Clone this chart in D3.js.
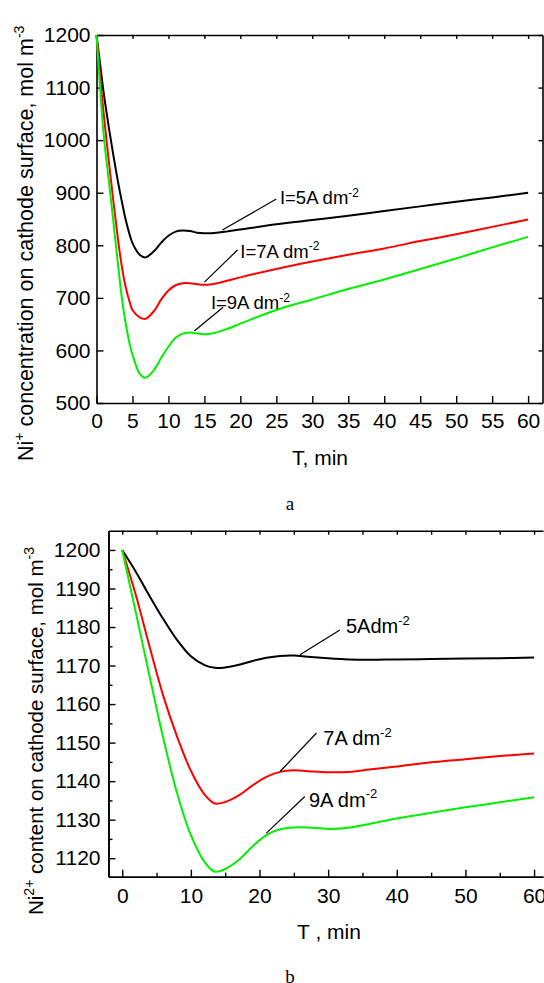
<!DOCTYPE html>
<html>
<head>
<meta charset="utf-8">
<script src="https://cdn.jsdelivr.net/npm/d3@7"></script>
<style>
  body { margin: 0; background: #fff; }
  text { font-family: "Liberation Sans", Arial, sans-serif; fill: #000; }
</style>
</head>
<body>
<script>
// chart a : Ni+ concentration vs time
var timeA = [0, 0.5, 1, 2, 3, 3.5, 4, 4.7, 5, 6, 6.8, 8, 9, 10, 11, 12, 13, 14, 15, 16, 18, 20, 25, 30, 35, 40, 45, 50, 55, 60];
var ni5A = [1200, 1145, 1090, 1000, 920, 885, 852, 816, 804, 782, 777, 789, 805, 818, 826, 828, 827, 824, 823, 823, 826, 830, 840, 848, 856, 865, 874, 883, 891, 900];
var ni7A = [1200, 1122, 1050, 925, 810, 762, 724, 688, 677, 663, 660, 675, 697, 714, 724, 728, 728, 726, 725, 726, 732, 739, 755, 769, 782, 794, 808, 821, 835, 849];
var ni9A = [1200, 1100, 1010, 888, 762, 703, 656, 607, 592, 556, 548, 563, 586, 607, 624, 632, 634, 632, 631, 632, 640, 651, 677, 697, 717, 735, 755, 775, 796, 816];

// chart b : Ni2+ content vs time
var timeB = [0, 2, 4, 6, 8, 10, 12, 13.5, 15, 17, 19, 21, 23, 25, 27, 30, 33, 36, 40, 45, 50, 55, 60];
var ni2_5A = [1200, 1194.3, 1188, 1182, 1176.6, 1172.4, 1170.1, 1169.4, 1169.5, 1170.2, 1171.2, 1172, 1172.5, 1172.6, 1172.3, 1171.9, 1171.6, 1171.5, 1171.6, 1171.7, 1171.8, 1171.9, 1172.1];
var ni2_7A = [1200, 1188.2, 1174.8, 1162, 1151.5, 1142.7, 1136.5, 1134.2, 1134.6, 1136.3, 1138.9, 1141.1, 1142.4, 1142.8, 1142.6, 1142.3, 1142.4, 1143, 1143.8, 1144.9, 1145.7, 1146.5, 1147.2];
var ni2_9A = [1200, 1183.6, 1167.1, 1151, 1136.8, 1126, 1119, 1116.5, 1117.2, 1119.6, 1123.1, 1126, 1127.5, 1128, 1128, 1127.6, 1127.9, 1128.9, 1130.3, 1131.8, 1133.2, 1134.5, 1135.8];

var ticksXA = d3.range(0, 61, 5);
var ticksYA = d3.range(500, 1201, 100);
var ticksXB = d3.range(0, 61, 10);
var ticksXBminor = d3.range(0, 61, 5);
var ticksYB = d3.range(1120, 1201, 10);
var ticksYBminor = d3.range(1120, 1201, 5);

// labels: anchor on the curve, end of leader, start of text (data units)
var notesA = [
  {txt: "I=5A dm", sup: "-2", ax: 17.5, ay: 829, lx: 25.0, ly: 888, tx: 25.5, ty: 878},
  {txt: "I=7A dm", sup: "-2", ax: 15.0, ay: 730, lx: 19.6, ly: 791, tx: 20.0, ty: 776},
  {txt: "I=9A dm", sup: "-2", ax: 13.6, ay: 637, lx: 17.6, ly: 682, tx: 15.9, ty: 678}
];
var notesB = [
  {txt: "5Adm", sup: "-2", ax: 25.9, ay: 1172.8, lx: 31.7, ly: 1179.2, tx: 32.6, ty: 1178.4},
  {txt: "7A dm", sup: "-2", ax: 23.0, ay: 1142.5, lx: 28.3, ly: 1152.5, tx: 29.3, ty: 1149.3},
  {txt: "9A dm", sup: "-2", ax: 21.0, ay: 1126.5, lx: 26.6, ly: 1136.0, tx: 27.2, ty: 1133.4}
];

var svg = d3.select("body").append("svg")
  .attr("width", 544)
  .attr("height", 983);

// write a text made of normal and superscript parts
function richText(sel, parts, size, supSize) {
  var up = false;
  parts.forEach(function(p) {
    var t = sel.append("tspan").text(p[0]);
    if (p[1]) {
      t.attr("font-size", supSize).attr("dy", -size * 0.42);
      up = true;
    } else {
      t.attr("font-size", size);
      if (up) t.attr("dy", size * 0.42);
      up = false;
    }
  });
}

function styleAxis(g) {
  g.selectAll(".domain").attr("stroke", "#000").attr("stroke-width", 1.6);
  g.selectAll(".tick line").attr("stroke", "#000").attr("stroke-width", 1.4);
  g.selectAll(".tick text").attr("font-size", 21).attr("font-family", "Liberation Sans, Arial, sans-serif");
}

var fmt = d3.format("d");

// ---------------- chart a ----------------
var xA = d3.scaleLinear().domain([0, 62]).range([96.5, 542.5]);
var yA = d3.scaleLinear().domain([500, 1200]).range([403, 35]);

var gA = svg.append("g");

gA.append("g").attr("transform", "translate(0," + yA(500) + ")")
  .call(d3.axisBottom(xA).tickValues(ticksXA).tickFormat(fmt).tickSizeInner(-7).tickSizeOuter(0).tickPadding(10))
  .call(styleAxis);
gA.append("g").attr("transform", "translate(" + xA(0) + ",0)")
  .call(d3.axisLeft(yA).tickValues(ticksYA).tickFormat(fmt).tickSizeInner(-7).tickSizeOuter(0).tickPadding(6))
  .call(styleAxis);
gA.append("g").attr("transform", "translate(0," + yA(1200) + ")")
  .call(d3.axisTop(xA).tickValues(ticksXA).tickSizeInner(-4).tickSizeOuter(0).tickFormat(""))
  .call(styleAxis);
gA.append("g").attr("transform", "translate(" + xA(62) + ",0)")
  .call(d3.axisRight(yA).tickValues(ticksYA).tickSizeInner(-4).tickSizeOuter(0).tickFormat(""))
  .call(styleAxis);

var lineA = d3.line().x(function(d) { return xA(d[0]); }).y(function(d) { return yA(d[1]); }).curve(d3.curveCatmullRom.alpha(0.5));
[[ni5A, "#000000"], [ni7A, "#ff0000"], [ni9A, "#00f000"]].forEach(function(s) {
  gA.append("path")
    .datum(timeA.map(function(t, i) { return [t, s[0][i]]; }))
    .attr("fill", "none")
    .attr("stroke", s[1])
    .attr("stroke-width", 2)
    .attr("d", lineA);
});

notesA.forEach(function(n) {
  gA.append("line")
    .attr("x1", xA(n.ax)).attr("y1", yA(n.ay))
    .attr("x2", xA(n.lx)).attr("y2", yA(n.ly))
    .attr("stroke", "#000").attr("stroke-width", 1.2);
  var t = gA.append("text").attr("x", xA(n.tx)).attr("y", yA(n.ty));
  richText(t, [[n.txt, false], [n.sup, true]], 18.5, 12);
});

richText(gA.append("text").attr("transform", "translate(33,461) rotate(-90)"),
  [["Ni", false], ["+", true], [" concentration on cathode surface, mol m", false], ["-3", true]], 21.5, 14);

gA.append("text").attr("x", 320).attr("y", 465).attr("text-anchor", "middle").attr("font-size", 21).text("T, min");
gA.append("text").attr("x", 290).attr("y", 510).attr("text-anchor", "middle")
  .style("font-family", "'Liberation Serif', 'Times New Roman', serif").attr("font-size", 19).text("a");

// ---------------- chart b ----------------
var xB = d3.scaleLinear().domain([-2, 61.3]).range([108.5, 543]);
var yB = d3.scaleLinear().domain([1115.2, 1205]).range([876.7, 530.7]);

var gB = svg.append("g");

gB.append("g").attr("transform", "translate(0," + yB(1115.2) + ")")
  .call(d3.axisBottom(xB).tickValues(ticksXBminor.filter(function(v) { return v % 10 != 0; })).tickSizeInner(-4).tickSizeOuter(0).tickFormat(""))
  .call(styleAxis);
gB.append("g").attr("transform", "translate(0," + yB(1115.2) + ")")
  .call(d3.axisBottom(xB).tickValues(ticksXB).tickFormat(fmt).tickSizeInner(-7).tickSizeOuter(0).tickPadding(11))
  .call(styleAxis);
gB.append("g").attr("transform", "translate(" + xB(-2) + ",0)")
  .call(d3.axisLeft(yB).tickValues(ticksYBminor.filter(function(v) { return v % 10 != 0; })).tickSizeInner(-4).tickSizeOuter(0).tickFormat(""))
  .call(styleAxis);
gB.append("g").attr("transform", "translate(" + xB(-2) + ",0)")
  .call(d3.axisLeft(yB).tickValues(ticksYB).tickFormat(fmt).tickSizeInner(-7).tickSizeOuter(0).tickPadding(8))
  .call(styleAxis);
gB.append("g").attr("transform", "translate(0," + yB(1205) + ")")
  .call(d3.axisTop(xB).tickValues(ticksXBminor).tickSizeInner(-4).tickSizeOuter(0).tickFormat(""))
  .call(styleAxis);

var lineB = d3.line().x(function(d) { return xB(d[0]); }).y(function(d) { return yB(d[1]); }).curve(d3.curveCatmullRom.alpha(0.5));
[[ni2_5A, "#000000"], [ni2_7A, "#ff0000"], [ni2_9A, "#00f000"]].forEach(function(s) {
  gB.append("path")
    .datum(timeB.map(function(t, i) { return [t, s[0][i]]; }))
    .attr("fill", "none")
    .attr("stroke", s[1])
    .attr("stroke-width", 2)
    .attr("d", lineB);
});

notesB.forEach(function(n) {
  gB.append("line")
    .attr("x1", xB(n.ax)).attr("y1", yB(n.ay))
    .attr("x2", xB(n.lx)).attr("y2", yB(n.ly))
    .attr("stroke", "#000").attr("stroke-width", 1.2);
  var t = gB.append("text").attr("x", xB(n.tx)).attr("y", yB(n.ty));
  richText(t, [[n.txt, false], [n.sup, true]], 20, 13);
});

richText(gB.append("text").attr("transform", "translate(43,915) rotate(-90)"),
  [["Ni", false], ["2+", true], [" content on cathode surface, mol m", false], ["-3", true]], 20.5, 14);

gB.append("text").attr("x", 329).attr("y", 939).attr("text-anchor", "middle").attr("font-size", 21).text("T , min");
gB.append("text").attr("x", 290).attr("y", 983).attr("text-anchor", "middle")
  .style("font-family", "'Liberation Serif', 'Times New Roman', serif").attr("font-size", 19).text("b");
</script>
</body>
</html>
